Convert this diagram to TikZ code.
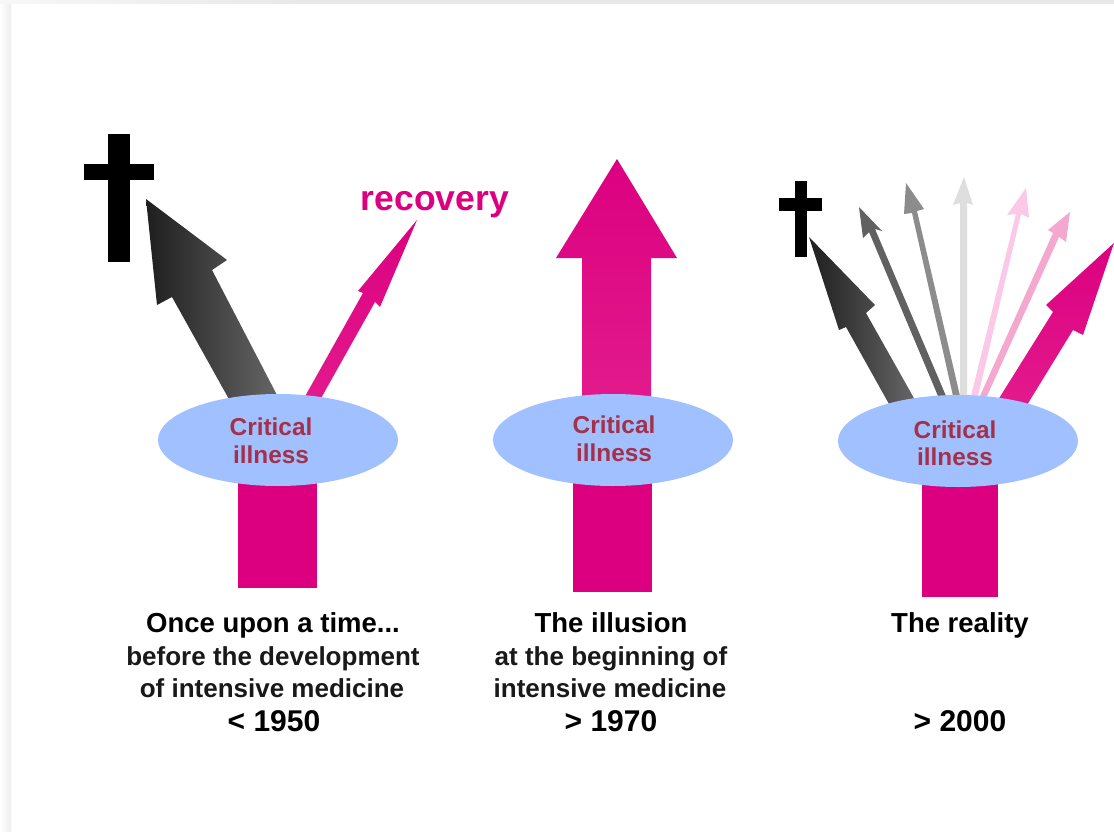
\documentclass[tikz,border=0pt]{standalone}
\usepackage{fontspec}
\setmainfont{Liberation Sans}
\usetikzlibrary{shapes.geometric}
\definecolor{magA}{HTML}{DC0080}
\definecolor{magB}{HTML}{E21A8C}
\definecolor{blob}{HTML}{A0C0FF}
\definecolor{ill}{HTML}{A5304A}
\definecolor{pinkL}{HTML}{FBC8E8}
\definecolor{pinkM}{HTML}{F4A8D0}
\tikzset{
  lowerbar/.style={fill=magA,draw=none},
  blobnode/.style={ellipse,fill=blob,draw=none,minimum width=240pt,minimum height=92pt,inner sep=0pt},
  illtext/.style={text=ill,font=\fontsize{24.4}{24}\selectfont\bfseries,inner sep=0pt,anchor=base},
  capbold/.style={text=black,font=\fontsize{27.5}{27}\selectfont\bfseries,inner sep=0pt,anchor=base},
  capreg/.style={text=black!90,font=\fontsize{26}{26}\selectfont\bfseries,inner sep=0pt,anchor=base},
  capyear/.style={text=black,font=\fontsize{30}{30}\selectfont\bfseries,inner sep=0pt,anchor=base},
  grayarrow/.style={left color=black!88,right color=black!60,draw=none},
  magarrow/.style={top color=magA,bottom color=magB,draw=none},
}
\begin{document}
\begin{tikzpicture}[x=1pt,y=-1pt]
\useasboundingbox (0,0) rectangle (1114,832);
% page edge shadows
\fill[white] (0,0) rectangle (1114,832);
\shade[left color=white,right color=black!7,draw=none] (0,4) rectangle (11,832);
\shade[left color=black!3,right color=black!9,draw=none] (0,0) rectangle (300,4);
\fill[black!9] (300,0) rectangle (1114,4);
% left group
\fill[lowerbar] (238,480) rectangle (317,588);
\shade[grayarrow] (146,199) -- (227,260) -- (212,270) -- (278,397) -- (230,401) -- (172,297) -- (157,305) -- cycle;
\shade[magarrow] (417,220) -- (380,307) -- (375,302) -- (320,400) -- (303,400) -- (363,293) -- (358,291) -- cycle;
\fill[black] (108,134) rectangle (130,262);
\fill[black] (84,164) rectangle (154,180);
% middle group
\fill[lowerbar] (573,480) rectangle (652,592);
\shade[magarrow] (617,159) -- (677,258) -- (651,258) -- (651,400) -- (582,400) -- (582,258) -- (556,258) -- cycle;
% right group
\fill[lowerbar] (922,480) rectangle (998,597);
\shade[grayarrow] (809,237) -- (875,305) -- (866,313) -- (915,400) -- (889,404) -- (846,327) -- (839,330) -- cycle;
\fill[black!62] (859,207) -- (882,231) -- (875,229) -- (946,396) -- (938,396) -- (869,232) -- (863,238) -- cycle;
\fill[black!45] (906,183) -- (924,209) -- (917,211) -- (960,396) -- (953,396) -- (912,213) -- (904,214) -- cycle;
\fill[black!13] (964,177) -- (973,205) -- (967,203) -- (967,396) -- (960,396) -- (960,203) -- (953,205) -- cycle;
\fill[pinkL] (1026,188) -- (1029,218) -- (1021,214) -- (978,396) -- (971,396) -- (1016,214) -- (1007,215) -- cycle;
\fill[pinkM] (1070,212) -- (1066,242) -- (1059,237) -- (987,396) -- (980,396) -- (1053,233) -- (1048,230) -- cycle;
\shade[top color=magA,bottom color=magB,draw=none] (1114,243) -- (1083,335) -- (1073,330) -- (1027,405) -- (998,400) -- (1053,312) -- (1046,305) -- cycle;
\fill[black] (795,181) rectangle (807,257);
\fill[black] (779,198) rectangle (822,211);
% ellipses
\node[blobnode] (e1) at (278,440) {};
\node[blobnode] (e2) at (613,440) {};
\node[blobnode] (e3) at (958,441) {};
% ellipse labels
\node[illtext] (l1a) at (271,435) {Critical};
\node[illtext] (l1b) at (271,463) {illness};
\node[illtext] (l2a) at (614,433) {Critical};
\node[illtext] (l2b) at (614,461) {illness};
\node[illtext] (l3a) at (955,438) {Critical};
\node[illtext] (l3b) at (955,465) {illness};
\node[text=magA,font=\fontsize{35.5}{35}\selectfont\bfseries,inner sep=0pt,anchor=base] (rec) at (435,210) {recovery};
% captions
\node[capbold] (c1a) at (273,632) {Once upon a time...};
\node[capreg] (c1b) at (273,665) {before the development};
\node[capreg] (c1c) at (272,697) {of intensive medicine};
\node[capyear] (c1d) at (274,731) {< 1950};
\node[capbold] (c2a) at (611,632) {The illusion};
\node[capreg] (c2b) at (611,665) {at the beginning of};
\node[capreg] (c2c) at (610,697) {intensive medicine};
\node[capyear] (c2d) at (611,731) {> 1970};
\node[capbold] (c3a) at (960,632) {The reality};
\node[capyear] (c3d) at (960,731) {> 2000};
\end{tikzpicture}
\end{document}
